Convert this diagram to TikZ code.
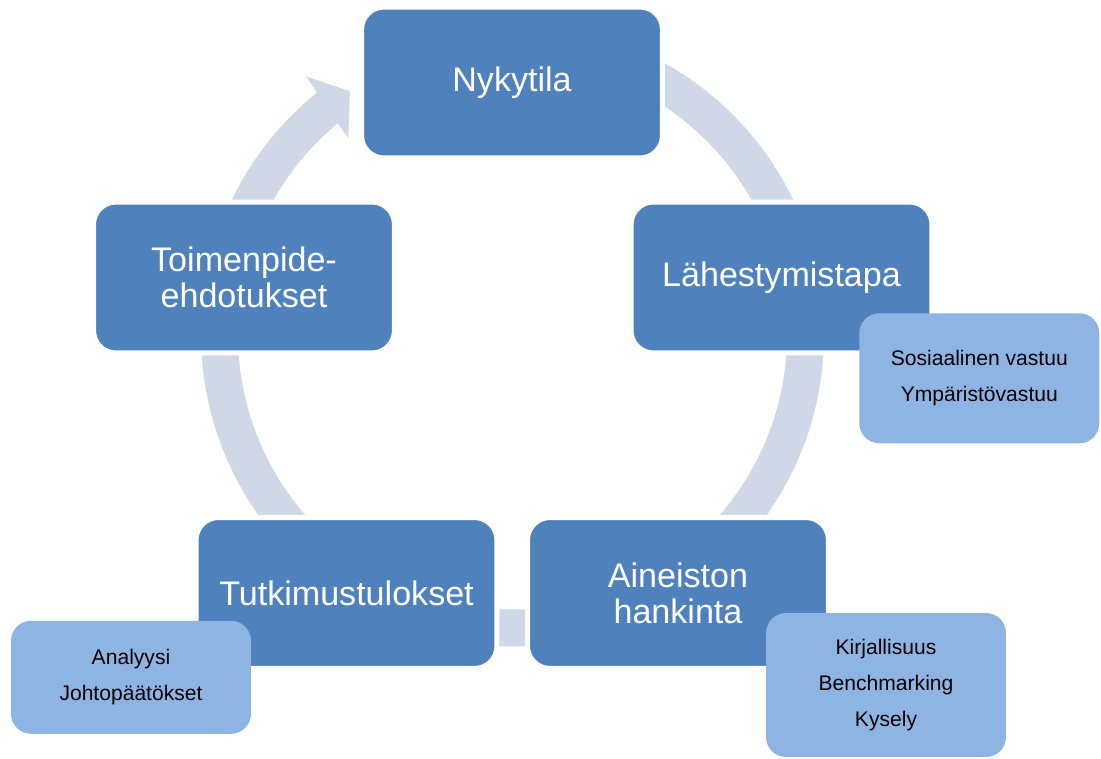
\documentclass[tikz,border=0pt]{standalone}
\usepackage{fontspec}
\setmainfont{Liberation Sans}
\usepackage{tikz}
\definecolor{phasecolor}{HTML}{4F81BD}
\definecolor{detailcolor}{HTML}{8EB4E3}
\definecolor{ringcolor}{HTML}{D0D8E8}

\begin{document}
\begin{tikzpicture}[x=0.02cm, y=0.02cm,
  phase/.style={draw=white, line width=0.1cm, rectangle, rounded corners=0.45cm, minimum width=6.02cm, minimum height=3.02cm, fill=phasecolor, text=white, align=center, font=\fontsize{19.4}{20.5}\selectfont},
  detail/.style={rectangle, rounded corners=0.4cm, minimum width=4.8cm, fill=detailcolor, align=center, font=\fontsize{12}{20.4}\selectfont},
  ringarc/.style={draw=ringcolor, line width=0.74cm}]%
\useasboundingbox (0,0) rectangle (1101,758);%
\coordinate (ctr) at (512.5,423);%
\draw[ringarc] ([shift={(110:293)}]ctr) arc[start angle=110, end angle=20, radius=293];%
\draw[ringarc] ([shift={(20:293)}]ctr) arc[start angle=20, end angle=-55, radius=293];%
\draw[ringarc] ([shift={(-55:293)}]ctr) arc[start angle=-55, end angle=-125, radius=293];%
\draw[ringarc] ([shift={(-125:293)}]ctr) arc[start angle=-125, end angle=-200, radius=293];%
\draw[ringarc] ([shift={(160:293)}]ctr) arc[start angle=160, end angle=128.8, radius=293];%
\fill[ringcolor] ([shift={(128.6:331)}]ctr) -- ([shift={(123.7:293)}]ctr) -- ([shift={(129.9:256)}]ctr) -- cycle;%
\node[phase] (nyky) at (512,675.5) {Nykytila};%
\node[phase] (lahe) at (781.5,480.5) {Lähestymistapa};%
\node[phase] (aine) at (678,165) {Aineiston\\hankinta};%
\node[phase] (tutk) at (346.5,165) {Tutkimustulokset};%
\node[phase] (toim) at (244,480.5) {Toimenpide-\\ehdotukset};%
\node[detail, minimum height=2.6cm] (sosi) at (979.3,379.7) {Sosiaalinen vastuu\\Ympäristövastuu};%
\node[detail, minimum height=2.88cm] (kirj) at (886,73) {Kirjallisuus\\Benchmarking\\Kysely};%
\node[detail, minimum height=2.26cm] (anal) at (131,80.7) {Analyysi\\Johtopäätökset};%
\end{tikzpicture}
\end{document}
